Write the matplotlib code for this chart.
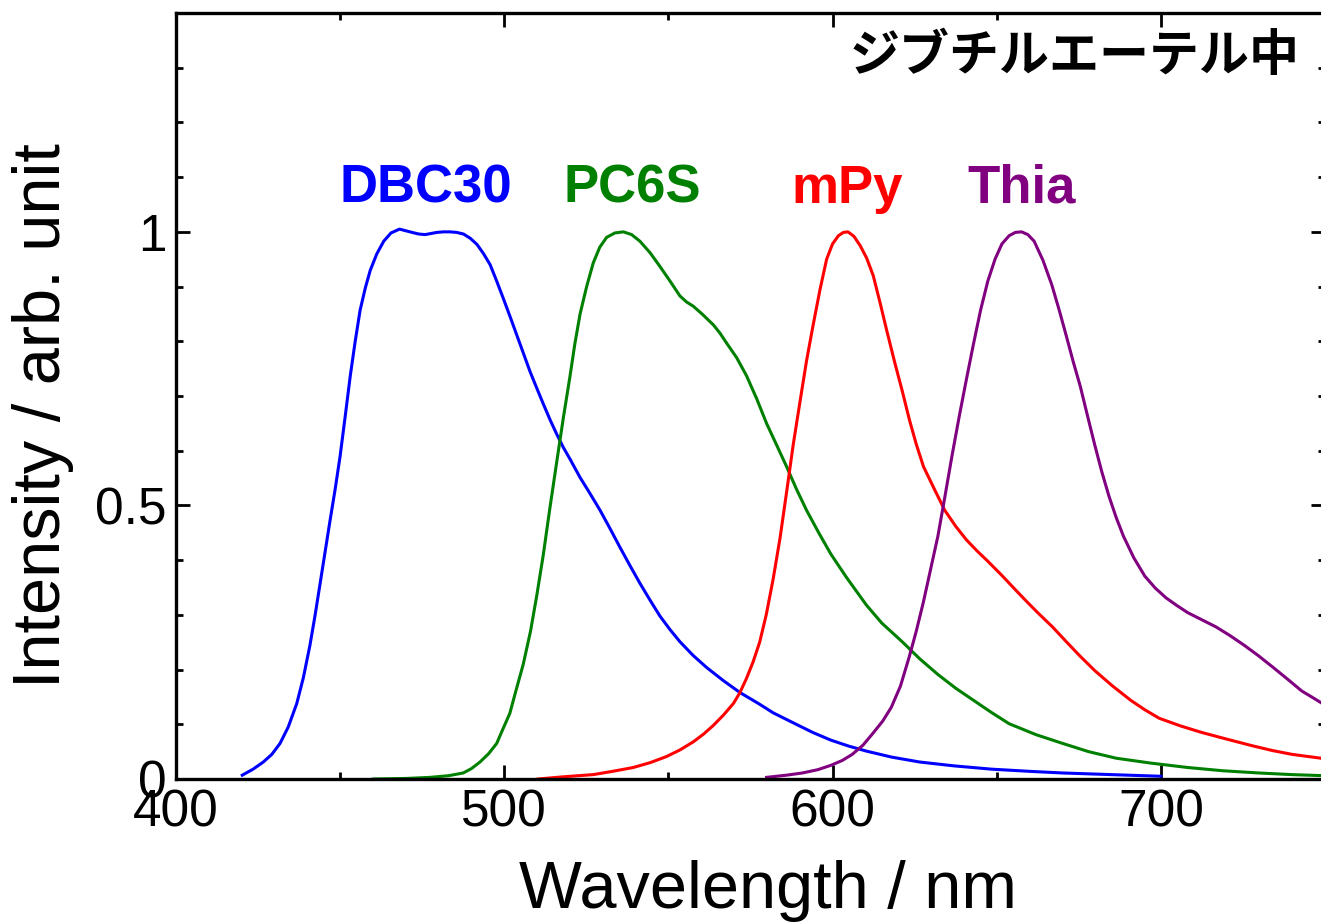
import matplotlib
matplotlib.use("Agg")
import matplotlib.pyplot as plt
from matplotlib.ticker import MultipleLocator, FuncFormatter

# emission spectra (wavelength in nm, normalised intensity)
dbc30_wl = [420.2, 423.5, 426.6, 429.2, 431.7, 434.2, 436.8, 438.8, 440.8, 442.4,
            443.9, 445.4, 446.9, 448.5, 450.0, 451.6, 453.1, 454.6, 456.1, 457.7,
            459.2, 461.2, 463.3, 465.5, 468.1, 470.0, 471.9, 474.0, 475.9, 477.7,
            479.5, 481.5, 483.5, 485.5, 487.6, 489.7, 491.7, 493.7, 495.7, 497.7,
            499.8, 501.9, 503.9, 505.9, 507.9, 510.0, 512.0, 514.0, 516.0, 518.0,
            520.1, 523.1, 526.2, 529.2, 532.2, 535.2, 538.3, 541.3, 544.4, 547.4,
            550.5, 553.5, 557.5, 561.6, 566.7, 571.8, 577.7, 581.9, 588.6, 594.0,
            599.5, 605.0, 610.3, 618.0, 626.6, 637.0, 648.4, 660.0, 670.1, 685.0,
            700.0]
dbc30_int = [0.007, 0.018, 0.031, 0.045, 0.065, 0.095, 0.138, 0.185, 0.244, 0.300,
             0.357, 0.414, 0.471, 0.530, 0.590, 0.665, 0.737, 0.800, 0.857, 0.898,
             0.930, 0.960, 0.983, 0.998, 1.005, 1.002, 0.999, 0.996, 0.995, 0.997,
             0.999, 1.000, 1.000, 0.999, 0.996, 0.988, 0.977, 0.960, 0.940, 0.910,
             0.877, 0.843, 0.810, 0.777, 0.744, 0.713, 0.684, 0.656, 0.630, 0.606,
             0.584, 0.551, 0.521, 0.491, 0.458, 0.424, 0.390, 0.358, 0.327, 0.298,
             0.273, 0.251, 0.226, 0.204, 0.180, 0.158, 0.137, 0.121, 0.101, 0.085,
             0.071, 0.060, 0.051, 0.040, 0.031, 0.024, 0.018, 0.014, 0.011, 0.008,
             0.005]

pc6s_wl = [460.1, 470.0, 477.4, 483.0, 487.5, 490.0, 492.6, 495.2, 497.7, 499.5,
           501.7, 503.5, 505.8, 508.0, 509.9, 511.9, 513.9, 516.0, 518.0, 520.0,
           521.5, 523.1, 525.1, 527.1, 529.1, 531.2, 533.7, 536.3, 538.8, 541.3,
           544.4, 547.4, 550.5, 553.5, 555.5, 557.6, 560.6, 563.7, 565.7, 567.7,
           570.8, 573.8, 576.9, 579.9, 583.0, 586.0, 589.0, 592.1, 595.8, 599.5,
           604.3, 610.3, 615.0, 621.2, 626.5, 632.1, 637.5, 642.9, 648.3, 653.8,
           662.0, 670.1, 678.0, 686.4, 697.0, 708.2, 719.0, 729.9, 740.0, 750.0]
pc6s_int = [0.000, 0.001, 0.003, 0.006, 0.011, 0.019, 0.031, 0.046, 0.065, 0.090,
            0.120, 0.160, 0.210, 0.270, 0.335, 0.410, 0.495, 0.580, 0.660, 0.735,
            0.795, 0.850, 0.900, 0.943, 0.972, 0.990, 0.998, 1.000, 0.995, 0.983,
            0.962, 0.937, 0.910, 0.883, 0.872, 0.864, 0.848, 0.830, 0.815, 0.797,
            0.770, 0.737, 0.695, 0.650, 0.610, 0.571, 0.530, 0.491, 0.450, 0.411,
            0.368, 0.318, 0.285, 0.251, 0.220, 0.191, 0.166, 0.144, 0.122, 0.101,
            0.081, 0.065, 0.050, 0.038, 0.029, 0.021, 0.015, 0.011, 0.008, 0.006]

mpy_wl = [510.3, 518.0, 527.1, 533.0, 539.3, 544.5, 549.4, 553.5, 557.6, 560.7,
          563.7, 566.8, 569.8, 571.8, 573.8, 575.8, 577.8, 579.8, 581.9, 584.0,
          586.0, 588.0, 590.1, 592.1, 594.1, 596.2, 598.2, 600.0, 601.8, 603.3,
          604.7, 606.5, 608.4, 610.4, 612.4, 614.5, 616.5, 619.0, 621.2, 623.4,
          625.5, 627.7, 631.0, 634.2, 637.5, 640.8, 644.0, 647.3, 651.6, 656.0,
          659.2, 662.5, 667.0, 671.2, 675.5, 679.9, 685.3, 690.8, 695.0, 699.5,
          706.0, 712.5, 720.0, 727.7, 734.0, 740.0, 750.0]
mpy_int = [0.000, 0.004, 0.008, 0.014, 0.021, 0.030, 0.041, 0.053, 0.068, 0.082,
           0.098, 0.117, 0.138, 0.158, 0.184, 0.214, 0.250, 0.300, 0.365, 0.440,
           0.524, 0.610, 0.690, 0.765, 0.830, 0.895, 0.950, 0.978, 0.993, 0.999,
           1.000, 0.992, 0.975, 0.952, 0.920, 0.870, 0.820, 0.760, 0.710, 0.657,
           0.612, 0.571, 0.530, 0.491, 0.462, 0.437, 0.417, 0.398, 0.372, 0.344,
           0.324, 0.304, 0.278, 0.251, 0.224, 0.198, 0.170, 0.144, 0.127, 0.111,
           0.097, 0.085, 0.073, 0.061, 0.052, 0.045, 0.037]

thia_wl = [579.9, 586.0, 590.8, 595.5, 599.5, 603.0, 606.0, 609.3, 612.5, 615.3,
           617.9, 620.7, 623.4, 625.5, 627.7, 629.9, 632.1, 634.2, 636.4, 638.6,
           640.8, 643.0, 645.1, 647.3, 649.5, 651.6, 653.8, 655.7, 657.6, 659.5,
           661.4, 664.1, 666.8, 669.0, 671.2, 673.3, 675.5, 677.7, 679.9, 682.0,
           684.2, 686.4, 688.6, 691.8, 695.1, 698.3, 701.6, 704.9, 708.2, 712.5,
           716.8, 721.1, 725.5, 729.8, 734.2, 738.5, 742.9, 746.5, 750.0]
thia_int = [0.003, 0.007, 0.011, 0.017, 0.025, 0.034, 0.045, 0.062, 0.085, 0.106,
            0.131, 0.170, 0.224, 0.270, 0.324, 0.384, 0.444, 0.515, 0.591, 0.663,
            0.731, 0.797, 0.857, 0.910, 0.950, 0.978, 0.993, 0.999, 1.000, 0.995,
            0.983, 0.948, 0.903, 0.858, 0.810, 0.763, 0.717, 0.663, 0.610, 0.562,
            0.517, 0.478, 0.444, 0.404, 0.371, 0.349, 0.331, 0.317, 0.304, 0.291,
            0.278, 0.262, 0.244, 0.225, 0.204, 0.183, 0.161, 0.148, 0.135]

names = ['DBC30', 'PC6S', 'mPy', 'Thia']
colors = ['#0000ff', '#008000', '#ff0000', '#800080']
label_x = [476.2, 538.9, 604.4, 657.7]      # where the dye names sit
label_y = 1.053

plt.rcParams['font.family'] = ['Liberation Sans', 'DejaVu Sans']

fig = plt.figure(figsize=(13.21, 9.22), dpi=100)
ax = fig.add_axes([0.1332, 0.1551, 0.8698, 0.8308])

spectra = [(dbc30_wl, dbc30_int), (pc6s_wl, pc6s_int), (mpy_wl, mpy_int), (thia_wl, thia_int)]
for (wl, inten), c in zip(spectra, colors):
    ax.plot(wl, inten, color=c, lw=2.2, solid_joinstyle='round')

for name, c, lx in zip(names, colors, label_x):
    ax.text(lx, label_y, name, color=c, fontsize=38, fontweight='bold',
            ha='center', va='baseline')

ax.text(0.978, 0.9426, 'ジブチルエーテル中', transform=ax.transAxes, ha='right', va='center',
        fontsize=36, fontweight='bold', family=['Noto Sans CJK JP', 'DejaVu Sans'])

ax.set_xlim(400, 750)
ax.set_ylim(0, 1.4)
ax.xaxis.set_major_locator(MultipleLocator(100))
ax.xaxis.set_minor_locator(MultipleLocator(50))
ax.yaxis.set_major_locator(MultipleLocator(0.5))
ax.yaxis.set_minor_locator(MultipleLocator(0.1))
ax.yaxis.set_major_formatter(FuncFormatter(lambda v, p: '%g' % v))

ax.tick_params(which='both', direction='in', top=True, right=True, width=2, labelsize=37, pad=7)
ax.tick_params(which='major', length=10)
ax.tick_params(which='minor', length=5)
for s in ax.spines.values():
    s.set_linewidth(2.4)

ax.set_xlabel('Wavelength / nm', fontsize=48)
ax.set_ylabel('Intensity / arb. unit', fontsize=48)
ax.xaxis.set_label_coords(0.515, -0.106)
ax.yaxis.set_label_coords(-0.089, 0.475)

fig.savefig('out.png', dpi=100)
